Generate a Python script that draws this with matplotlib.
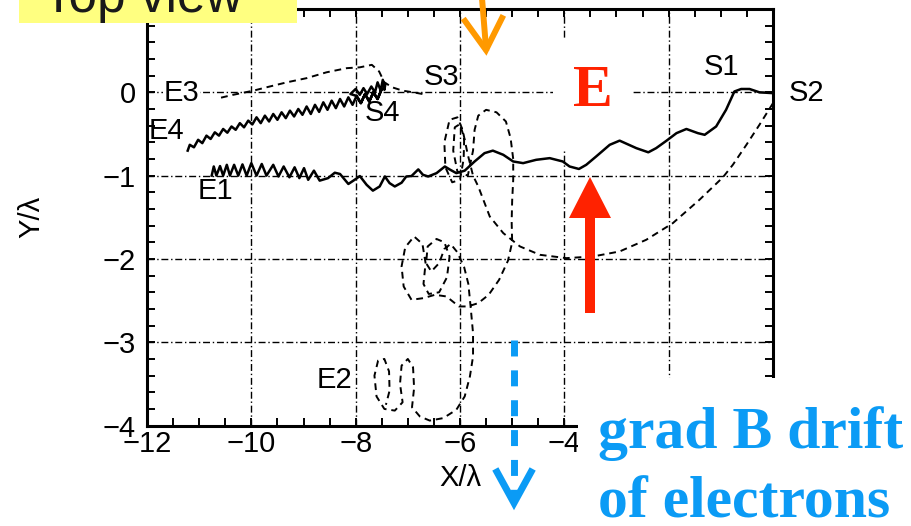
import matplotlib
matplotlib.use("Agg")
import matplotlib.pyplot as plt
from matplotlib.patches import Rectangle, Polygon
from matplotlib.lines import Line2D
from matplotlib.ticker import MultipleLocator

# trajectories, in units of lambda
# solid S1 -> E1
s1_x = [0.00, -0.26, -0.45, -0.61, -0.74, -0.90, -1.09, -1.31, -1.44, -1.66, -1.85, -2.04, -2.24, -2.39,
        -2.62, -2.94, -3.13, -3.39, -3.58, -3.72, -3.90, -4.03, -4.28, -4.54, -4.79, -4.98, -5.17, -5.37,
        -5.53, -5.72, -5.91, -6.07, -6.20, -6.29, -6.45, -6.61, -6.71, -6.80, -6.93, -7.03, -7.12, -7.25,
        -7.35, -7.44, -7.54, -7.67, -7.79, -7.92, -8.02, -8.14, -8.30, -8.40, -8.53, -8.69, -8.80, -8.91,
        -8.99, -9.08, -9.17, -9.27, -9.38, -9.48, -9.58, -9.71, -9.80, -9.90, -10.00, -10.09, -10.17,
        -10.25, -10.33, -10.41, -10.47, -10.54, -10.60, -10.67, -10.72, -10.76]
s1_y = [-0.01, 0.00, 0.04, 0.04, 0.01, -0.21, -0.41, -0.51, -0.49, -0.44, -0.49, -0.58, -0.67, -0.72,
        -0.67, -0.58, -0.63, -0.77, -0.87, -0.92, -0.89, -0.83, -0.79, -0.81, -0.85, -0.83, -0.75, -0.70,
        -0.73, -0.83, -0.94, -0.97, -0.925, -0.89, -0.97, -1.01, -0.99, -0.925, -1.005, -1.01, -1.085, -1.13,
        -1.09, -1.01, -1.13, -1.18, -1.11, -1.005, -1.05, -1.10, -0.98, -0.965, -1.03, -1.06, -0.94, -1.05,
        -0.91, -1.03, -0.90, -1.02, -0.89, -1.01, -0.87, -1.00, -0.86, -1.00, -0.85, -1.00, -0.865,
        -1.00, -0.87, -1.00, -0.87, -1.00, -0.885, -1.00, -0.89, -1.00]

# dashed S2 -> E2
s2_x = [0.00, -0.26, -0.51, -0.77, -0.96, -1.41, -1.92, -2.43, -2.94, -3.45, -3.96, -4.47, -4.85, -5.17,
        -5.43, -5.65, -5.75, -5.85, -5.95, -6.05, -6.20, -6.30, -6.28, -6.15, -6.00, -5.93, -5.92, -6.00,
        -6.10, -6.13, -6.05, -5.85, -5.75, -5.72, -5.65, -5.50, -5.30, -5.12, -5.03, -4.98, -4.98, -5.00,
        -5.01, -5.00, -5.08, -5.25, -5.45, -5.65, -5.85, -6.02, -6.26, -6.48, -6.70, -6.93, -7.08, -7.12,
        -7.05, -6.88, -6.72, -6.66, -6.70, -6.60, -6.40, -6.25, -6.20, -6.30, -6.45, -6.62, -6.65, -6.55,
        -6.40, -6.30, -6.18, -6.05, -5.92, -5.84, -5.80, -5.75, -5.75, -5.81, -5.91, -6.07, -6.32, -6.58,
        -6.77, -6.92, -6.88, -6.90, -7.00, -7.12, -7.15, -7.10, -7.25, -7.45, -7.60, -7.64, -7.57, -7.45,
        -7.36, -7.35, -7.42]
s2_y = [-0.13, -0.39, -0.63, -0.87, -1.02, -1.29, -1.57, -1.77, -1.91, -1.97, -1.99, -1.95, -1.85, -1.69,
        -1.49, -1.13, -1.00, -0.75, -0.45, -0.30, -0.33, -0.60, -0.90, -1.08, -1.05, -0.80, -0.55, -0.38,
        -0.42, -0.70, -0.95, -1.00, -0.70, -0.45, -0.28, -0.21, -0.24, -0.35, -0.55, -0.80, -1.05, -1.30,
        -1.55, -1.80, -2.02, -2.25, -2.43, -2.53, -2.57, -2.57, -2.45, -2.43, -2.47, -2.49, -2.33, -2.09,
        -1.86, -1.73, -1.82, -2.05, -2.30, -2.42, -2.40, -2.22, -1.97, -1.80, -1.76, -1.85, -2.05, -2.15,
        -2.05, -1.88, -1.82, -1.92, -2.10, -2.30, -2.55, -2.89, -3.17, -3.41, -3.65, -3.81, -3.91, -3.94,
        -3.89, -3.78, -3.55, -3.30, -3.20, -3.28, -3.50, -3.72, -3.82, -3.80, -3.65, -3.40, -3.22, -3.20,
        -3.35, -3.58, -3.75]

# dashed S3 -> E3
s3_x = [-6.72, -6.90, -7.10, -7.30, -7.45, -7.55, -7.69, -7.92, -8.17, -8.56, -8.94, -9.32, -9.71,
        -9.96, -10.35, -10.62]
s3_y = [-0.02, 0.00, 0.02, 0.06, 0.12, 0.25, 0.33, 0.30, 0.29, 0.24, 0.17, 0.12, 0.06, 0.02, -0.03, -0.07]

# solid S4 -> E4
s4_x = [-7.43, -7.45, -7.48, -7.52, -7.58, -7.63, -7.70, -7.78, -7.85, -7.92, -8.00, -8.10, -8.00,
        -7.90, -7.82, -7.74, -7.66, -7.58, -7.50, -7.58, -7.66, -7.74, -7.82, -7.90, -7.98, -8.06, -8.14,
        -8.22, -8.30, -8.38, -8.46, -8.54, -8.62, -8.70, -8.78, -8.86, -8.94, -9.02, -9.10, -9.18, -9.26,
        -9.34, -9.42, -9.50, -9.58, -9.66, -9.74, -9.82, -9.90, -9.98, -10.06, -10.14, -10.22, -10.30,
        -10.38, -10.46, -10.54, -10.62, -10.70, -10.78, -10.86, -10.94, -11.02, -11.10, -11.18, -11.22]
s4_y = [0.10, 0.03, 0.15, 0.02, 0.12, 0.00, 0.07, -0.02, 0.05, -0.03, 0.04, -0.02, -0.04,
        -0.13, -0.02, -0.11, 0.00, -0.08, 0.04, -0.08, 0.00, -0.11, -0.02, -0.13, -0.04, -0.15, -0.06,
        -0.17, -0.08, -0.19, -0.10, -0.21, -0.12, -0.235, -0.15, -0.26, -0.17, -0.27, -0.20, -0.29, -0.22,
        -0.31, -0.24, -0.33, -0.26, -0.35, -0.28, -0.37, -0.30, -0.385, -0.34, -0.42, -0.37, -0.45,
        -0.41, -0.485, -0.44, -0.52, -0.48, -0.56, -0.52, -0.61, -0.57, -0.66, -0.63, -0.70]

point_labels = ["S1", "S2", "S3", "S4", "E1", "E2", "E3", "E4"]
label_x = [-0.98, 0.64, -6.35, -7.48, -10.68, -8.40, -11.33, -11.62]
label_y = [0.30, -0.01, 0.18, -0.25, -1.18, -3.45, -0.01, -0.47]

grid_x = [-10, -8, -6, -4, -2]
grid_y = [0, -1, -2, -3]
x_ticks = [-12, -10, -8, -6, -4, -2, 0]
y_ticks = [-4, -3, -2, -1, 0]

W, H = 912, 526
sans = "Liberation Sans"


def fx(px):
    return px / W


def fy(py):
    return 1 - py / H


fig = plt.figure(figsize=(W / 100, H / 100), dpi=100)
ax = fig.add_axes([fx(147), fy(425.6), 626 / W, 416.6 / H])
ax.set_xlim(-12, 0)
ax.set_ylim(-4, 1)

for gx in grid_x:
    ax.axvline(gx, color="black", lw=1.0, ls=(0, (5, 2, 1, 2)), zorder=1)
for gy in grid_y:
    ax.axhline(gy, color="black", lw=1.0, ls=(0, (5, 2, 1, 2)), zorder=1)

# white patch behind the red E
ax.add_patch(Rectangle((-4.22, -0.69), 1.50, 1.34, facecolor="white", edgecolor="none", zorder=2))

ax.plot(s1_x, s1_y, color="black", lw=1.8, zorder=3, solid_joinstyle="round")
ax.plot(s4_x, s4_y, color="black", lw=1.8, zorder=3, solid_joinstyle="round")
ax.plot(s2_x, s2_y, color="black", lw=1.4, ls=(0, (3.5, 2.5)), zorder=3)
ax.plot(s3_x, s3_y, color="black", lw=1.4, ls=(0, (3.5, 2.5)), zorder=3)

for name, lx, ly in zip(point_labels, label_x, label_y):
    bb = dict(facecolor="white", edgecolor="none", pad=0.5) if name == "E3" else None
    ax.text(lx, ly, name, fontsize=21, family=sans, ha="center", va="center", zorder=4, bbox=bb)

ax.set_xticks(x_ticks)
ax.set_yticks(y_ticks)
ax.xaxis.set_minor_locator(MultipleLocator(0.5))
ax.yaxis.set_minor_locator(MultipleLocator(0.2))
ax.tick_params(which="both", direction="in", top=True, right=True, length=6, width=1.4)
ax.tick_params(axis="x", pad=3, labelsize=21)
ax.tick_params(axis="y", pad=8, labelsize=21)
for lab in ax.get_xticklabels() + ax.get_yticklabels():
    lab.set_family(sans)
for sp in ax.spines.values():
    sp.set_linewidth(2.2)

ax.set_xlabel("X/λ", fontsize=21, family=sans)
ax.set_ylabel("Y/λ", fontsize=21, family=sans)
ax.xaxis.set_label_coords(0.5, -(464 - 425.6) / 416.6)
ax.yaxis.set_label_coords(-(147 - 45) / 626, 0.5)

ax.text(-3.456, 0.0, "E", color="#FF2200", fontsize=43, fontweight="bold",
        family="Liberation Serif", ha="center", va="center", zorder=5)

# red arrow pointing up at the E-field dip
red_arrow = [(585, 313), (595, 313), (595, 218), (611, 218), (590, 177), (569, 218), (585, 218)]
fig.add_artist(Polygon([(fx(a), fy(b)) for a, b in red_arrow], closed=True,
                       facecolor="#FF2200", edgecolor="none", transform=fig.transFigure, zorder=6))

# white cover at bottom right and the blue note
fig.add_artist(Rectangle((fx(578), 0), 1 - fx(578), fy(378), transform=fig.transFigure,
                         facecolor="white", edgecolor="none", zorder=5))
blue = "#0B9BF5"
fig.text(fx(598), fy(448), "grad B drift", color=blue, fontsize=43, fontweight="bold",
         family="Liberation Serif", va="baseline", ha="left", zorder=6)
fig.text(fx(598), fy(517), "of electrons", color=blue, fontsize=43, fontweight="bold",
         family="Liberation Serif", va="baseline", ha="left", zorder=6)
fig.add_artist(Line2D([fx(514), fx(514)], [fy(340), fy(498)], color=blue, lw=5,
                      ls=(0, (2.3, 2.0)), solid_capstyle="butt", transform=fig.transFigure, zorder=6))
fig.add_artist(Line2D([fx(497), fx(514), fx(531)], [fy(472), fy(503), fy(472)], color=blue, lw=5,
                      solid_joinstyle="miter", transform=fig.transFigure, zorder=6))

# yellow "Top view" tag and orange arrow at the top
fig.add_artist(Rectangle((fx(19), fy(23)), (297 - 19) / W, 23 / H, transform=fig.transFigure,
                         facecolor="#FFFF80", edgecolor="none", zorder=5))
fig.text(fx(43), fy(12), "Top view", fontsize=37, family="Liberation Sans", color="#1a1a1a",
         va="baseline", ha="left", zorder=6)
fig.add_artist(Line2D([fx(482), fx(486)], [fy(-2), fy(48)], color="#FF9900", lw=4.3,
                      transform=fig.transFigure, zorder=6))
fig.add_artist(Line2D([fx(465), fx(486), fx(502)], [fy(21), fy(50), fy(18)], color="#FF9900", lw=4.3,
                      solid_joinstyle="miter", transform=fig.transFigure, zorder=6))

fig.savefig("out.png", dpi=100)
